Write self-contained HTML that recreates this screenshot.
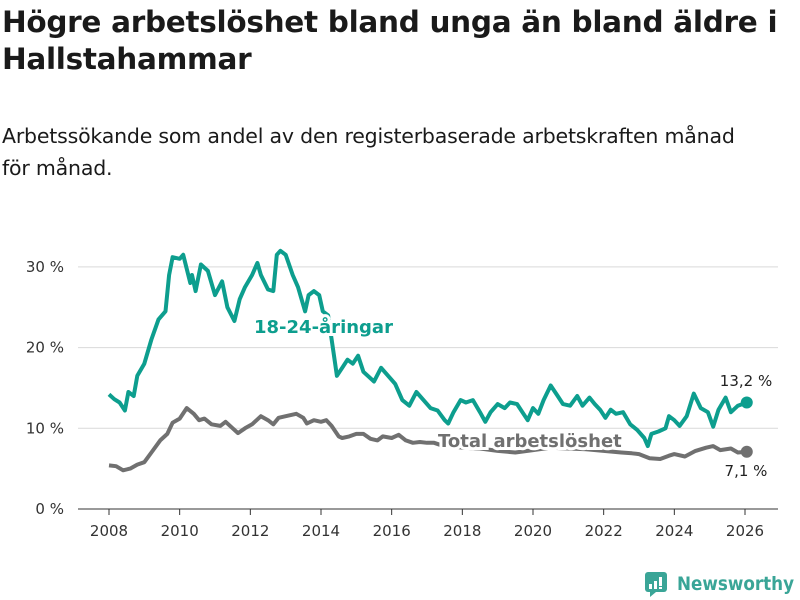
<!DOCTYPE html>
<html><head><meta charset="utf-8"><style>
body{margin:0;width:800px;height:600px;background:#fff;font-family:"DejaVu Sans","Liberation Sans",sans-serif;overflow:hidden;position:relative;color:#1a1a1a}
#title{position:absolute;left:2px;top:4px;width:798px;font-size:29.5px;font-weight:bold;line-height:37px;letter-spacing:-0.3px}
#sub{position:absolute;left:2px;top:120px;width:745px;font-size:20.5px;line-height:32px;letter-spacing:-0.2px}
svg{position:absolute;left:0;top:0}
</style></head><body>
<div id="title">Högre arbetslöshet bland unga än bland äldre i Hallstahammar</div>
<div id="sub">Arbetssökande som andel av den registerbaserade arbetskraften månad för månad.</div>
<svg id="chart" width="800" height="600"></svg>
<script>
const youthX=[2008.0,2008.15,2008.3,2008.45,2008.55,2008.7,2008.8,2009.0,2009.2,2009.4,2009.6,2009.7,2009.8,2010.0,2010.1,2010.3,2010.35,2010.45,2010.6,2010.8,2011.0,2011.2,2011.35,2011.55,2011.7,2011.85,2012.05,2012.2,2012.3,2012.5,2012.65,2012.75,2012.85,2013.0,2013.2,2013.35,2013.55,2013.65,2013.8,2013.95,2014.05,2014.2,2014.35,2014.45,2014.6,2014.75,2014.9,2015.05,2015.2,2015.5,2015.7,2015.9,2016.1,2016.3,2016.5,2016.7,2016.9,2017.1,2017.3,2017.5,2017.6,2017.75,2017.95,2018.1,2018.3,2018.5,2018.65,2018.8,2019.0,2019.2,2019.35,2019.55,2019.7,2019.85,2020.0,2020.15,2020.3,2020.5,2020.7,2020.85,2021.05,2021.25,2021.4,2021.6,2021.75,2021.9,2022.05,2022.2,2022.35,2022.55,2022.75,2022.95,2023.15,2023.25,2023.35,2023.55,2023.75,2023.85,2024.0,2024.15,2024.35,2024.55,2024.75,2024.95,2025.1,2025.25,2025.45,2025.6,2025.8,2026.05];
const youthY=[14.2,13.6,13.2,12.2,14.5,14,16.5,18,21,23.5,24.5,29,31.2,31,31.5,28,29,27,30.3,29.5,26.5,28.2,25,23.3,26,27.5,29,30.5,29,27.2,27,31.5,32,31.5,29,27.5,24.5,26.5,27,26.5,24.5,24,19.5,16.5,17.5,18.5,18,19,17,15.8,17.5,16.5,15.5,13.5,12.8,14.5,13.5,12.5,12.2,11,10.6,12,13.5,13.2,13.5,12,10.8,12,13,12.5,13.2,13,12,11,12.5,11.8,13.5,15.3,14,13,12.8,14,12.8,13.8,13,12.3,11.3,12.3,11.8,12,10.5,9.8,8.8,7.8,9.3,9.6,10,11.5,11,10.3,11.5,14.3,12.5,12,10.2,12.3,13.8,12,12.8,13.2];
const totalX=[2008.0,2008.2,2008.4,2008.6,2008.8,2009.0,2009.2,2009.45,2009.65,2009.8,2010.0,2010.2,2010.4,2010.55,2010.7,2010.9,2011.15,2011.3,2011.5,2011.65,2011.85,2012.05,2012.3,2012.5,2012.65,2012.8,2013.0,2013.3,2013.5,2013.6,2013.8,2014.0,2014.15,2014.3,2014.5,2014.6,2014.8,2015.0,2015.2,2015.4,2015.6,2015.75,2016.0,2016.2,2016.4,2016.6,2016.8,2017.0,2017.2,2017.4,2018.0,2018.5,2019.0,2019.5,2020.0,2020.5,2021.0,2021.5,2022.0,2022.5,2022.8,2023.0,2023.3,2023.6,2023.85,2024.0,2024.3,2024.6,2024.9,2025.1,2025.3,2025.6,2025.8,2026.05];
const totalY=[5.4,5.3,4.8,5.0,5.5,5.8,7,8.5,9.3,10.7,11.2,12.5,11.8,11,11.2,10.5,10.3,10.8,10,9.4,10,10.5,11.5,11,10.5,11.3,11.5,11.8,11.3,10.6,11,10.8,11,10.3,9,8.8,9,9.3,9.3,8.7,8.5,9,8.8,9.2,8.5,8.2,8.3,8.2,8.2,7.9,7.6,7.5,7.2,7.0,7.3,7.6,7.5,7.4,7.2,7.0,6.9,6.8,6.3,6.2,6.6,6.8,6.5,7.2,7.6,7.8,7.3,7.5,7.0,7.1];
const yTicks=[0,10,20,30];
const xTicks=[2008,2010,2012,2014,2016,2018,2020,2022,2024,2026];
const NS="http://www.w3.org/2000/svg";
const svg=document.getElementById('chart');
const sx=v=>109+(v-2008)*(636/18);
const sy=v=>509-v*8.07;
function mk(t,a){const e=document.createElementNS(NS,t);for(const k in a)e.setAttribute(k,a[k]);svg.appendChild(e);return e;}
yTicks.forEach(t=>{
  const g=mk('line',{x1:78,x2:778,y1:sy(t),y2:sy(t),stroke:t===0?'#333':'#d9d9d9','stroke-width':1});
  
  
  const l=mk('text',{x:64,y:sy(t)+5,'text-anchor':'end','font-size':15,fill:'#333'});
  l.textContent=t+' %';
  
  
});
xTicks.forEach(t=>{
  const k=mk('line',{x1:sx(t),x2:sx(t),y1:509,y2:515,stroke:'#333'});
  
  
  const l=mk('text',{x:sx(t),y:536,'text-anchor':'middle','font-size':15,fill:'#333'});
  l.textContent=t;
  
  
});
function line(xs,ys,c,name){
  const d=xs.map((x,i)=>(i?'L':'M')+sx(x).toFixed(1)+','+sy(ys[i]).toFixed(1)).join('');
  const p=mk('path',{d:d,fill:'none',stroke:c,'stroke-width':4,'stroke-linejoin':'round'});
  
  
  const n=xs.length-1;
  const c2=mk('circle',{cx:sx(xs[n]),cy:sy(ys[n]),r:6,fill:c});
  
  
}
line(totalX,totalY,'#707070','total-line');
line(youthX,youthY,'#0d9e8e','youth-line');
function lab(x,y,txt,c,name,sz,bold,anchor){
  const t=mk('text',{x:x,y:y,'font-size':sz,'font-weight':bold?'bold':'normal',fill:c,stroke:'#fff','stroke-width':bold?6:0,'paint-order':'stroke','text-anchor':anchor||'start'});
  t.textContent=txt;
  
  
}
lab(254,333,'18-24-åringar','#0d9e8e','youth-series-label',18,true);
lab(438,447,'Total arbetslöshet','#707070','total-series-label',18,true);
lab(746,386,'13,2 %','#222','youth-end-value',15,false,'middle');
lab(746,476,'7,1 %','#222','total-end-value',15,false,'middle');
</script>
<svg width="800" height="600">
<rect x="645" y="572" width="22" height="20" rx="3" fill="#3aa597"/>
<polygon points="650,592 656,592 650,597" fill="#3aa597"/>
<rect x="649" y="584" width="3" height="5" fill="#fff"/><rect x="654" y="581" width="3" height="8" fill="#fff"/><rect x="659" y="577" width="3" height="9" fill="#fff"/><rect x="659" y="587" width="3" height="2" fill="#fff"/>
<text x="677" y="590" font-size="19" font-weight="bold" fill="#3aa597" textLength="117" lengthAdjust="spacingAndGlyphs" font-family="DejaVu Sans,sans-serif">Newsworthy</text>
</svg>
</body></html>
